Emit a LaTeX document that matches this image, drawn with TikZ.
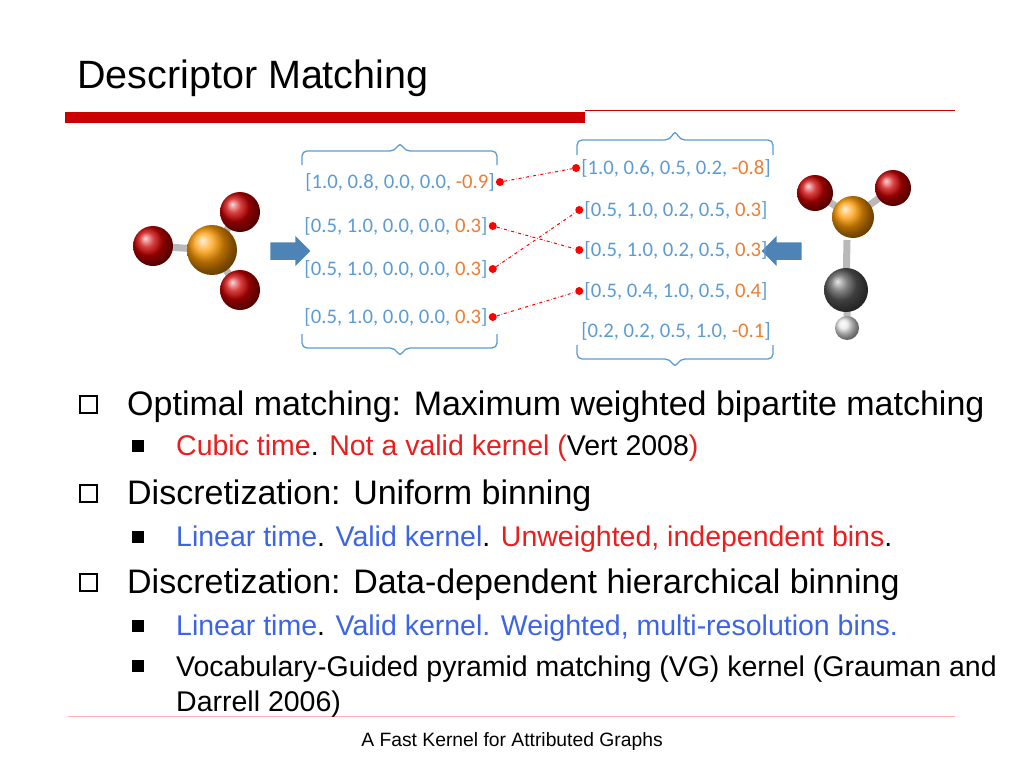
\documentclass[tikz,border=0pt]{standalone}
\usepackage{fontspec}
\setmainfont{Liberation Sans}
\newfontfamily\calib{Carlito}
\usetikzlibrary{shapes.arrows}
\definecolor{vb}{RGB}{91,155,213}
\definecolor{vo}{RGB}{237,125,49}
\definecolor{rt}{RGB}{235,30,30}
\definecolor{bt}{RGB}{60,100,230}
\definecolor{barred}{RGB}{204,0,0}
\newcommand{\vo}[1]{\textcolor{vo}{#1}}
\tikzset{
 vec/.style={font=\calib\fontsize{20.7}{24}\selectfont, text=vb, inner sep=1pt},
 brace/.style={draw=vb, line width=1.3pt, rounded corners=5pt},
 dot/.style={circle, fill=red, inner sep=0pt, minimum size=8pt},
 match/.style={red, dash dot, line width=1pt},
 ball/.style={circle, inner sep=0pt},
 bond/.style={line width=7pt, gray!55},
 txt/.style={anchor=base west, inner sep=0pt},
 main/.style={txt, font=\fontsize{34}{38}\selectfont},
 sub/.style={txt, font=\fontsize{28.5}{32}\selectfont},
 hbox/.style={draw, line width=2pt, minimum size=17pt, inner sep=0pt},
 fbox/.style={fill, minimum size=12pt, inner sep=0pt},
 barrow/.style={single arrow, fill=vb!85!black, minimum height=40pt, minimum width=30pt, single arrow head extend=3pt, inner sep=4pt}
}
\begin{document}
\begin{tikzpicture}[x=1pt,y=-1pt]
\useasboundingbox (0,0) rectangle (1024,768);
\node[txt, font=\fontsize{39.5}{44}\selectfont] (title) at (77,88) {Descriptor Matching};
\fill[barred] (65,112) rectangle (585,123);
\draw[barred, line width=1pt] (585,110) -- (955,110);
\draw[red!30, line width=0.8pt] (68,716) -- (955,716);
\node[font=\fontsize{19.3}{22}\selectfont] (foot) at (512,741) {A Fast Kernel for Attributed Graphs};

% left molecule
\draw[bond] (212,250) -- (240,212) (212,250) -- (153,246) (212,250) -- (240,290);
\node[ball, minimum size=40pt, ball color=red!80!black] (lo1) at (240,212) {};
\node[ball, minimum size=40pt, ball color=red!80!black] (lo2) at (153,246) {};
\node[ball, minimum size=50pt, ball color=orange!80!yellow] (ls) at (212,250) {};
\node[ball, minimum size=40pt, ball color=red!80!black] (lo3) at (240,290) {};
% right molecule
\draw[bond] (853,217) -- (815,193) (853,217) -- (893,188) (847,240) -- (846,290) (847,300) -- (847,328);
\node[ball, minimum size=36pt, ball color=red!80!black] (ro1) at (815,193) {};
\node[ball, minimum size=36pt, ball color=red!80!black] (ro2) at (893,188) {};
\node[ball, minimum size=42pt, ball color=orange!80!yellow] (rs) at (853,217) {};
\node[ball, minimum size=44pt, ball color=gray!70!black] (rc) at (846,290) {};
\node[ball, minimum size=24pt, ball color=gray!20] (rh) at (847,328) {};

\node[barrow] (la) at (286,251) {};
\node[barrow, shape border rotate=180] (ra) at (786,251) {};

% vectors
\node[vec] (l1) at (400,182) {[1.0, 0.8, 0.0, 0.0, \vo{-0.9}]};
\node[vec] (l2) at (396,226) {[0.5, 1.0, 0.0, 0.0, \vo{0.3}]};
\node[vec] (l3) at (396,269) {[0.5, 1.0, 0.0, 0.0, \vo{0.3}]};
\node[vec] (l4) at (396,317) {[0.5, 1.0, 0.0, 0.0, \vo{0.3}]};
\node[vec] (r1) at (676,168) {[1.0, 0.6, 0.5, 0.2, \vo{-0.8}]};
\node[vec] (r2) at (676,210) {[0.5, 1.0, 0.2, 0.5, \vo{0.3}]};
\node[vec] (r3) at (676,250) {[0.5, 1.0, 0.2, 0.5, \vo{0.3}]};
\node[vec] (r4) at (676,291) {[0.5, 0.4, 1.0, 0.5, \vo{0.4}]};
\node[vec] (r5) at (676,331) {[0.2, 0.2, 0.5, 1.0, \vo{-0.1}]};

\node[dot] (dl1) at ([xshift=4pt]l1.east) {};
\node[dot] (dl2) at ([xshift=4pt]l2.east) {};
\node[dot] (dl3) at ([xshift=4pt]l3.east) {};
\node[dot] (dl4) at ([xshift=4pt]l4.east) {};
\node[dot] (dr1) at ([xshift=-4pt]r1.west) {};
\node[dot] (dr2) at ([xshift=-4pt]r2.west) {};
\node[dot] (dr3) at ([xshift=-4pt]r3.west) {};
\node[dot] (dr4) at ([xshift=-4pt]r4.west) {};
\draw[match] (dl1) -- (dr1);
\draw[match] (dl2) -- (dr3);
\draw[match] (dl3) -- (dr2);
\draw[match] (dl4) -- (dr4);

% braces
\coordinate (bt1) at (400,142);
\draw[brace] (302,165) -- (302,151) -- (395,151) -- (bt1) -- (405,151) -- (497,151) -- (497,165);
\coordinate (bb1) at (400,357);
\draw[brace] (302,334) -- (302,348) -- (395,348) -- (bb1) -- (405,348) -- (497,348) -- (497,334);
\coordinate (bt2) at (675,130);
\draw[brace] (577,155) -- (577,140) -- (670,140) -- (bt2) -- (680,140) -- (773,140) -- (773,155);
\coordinate (bb2) at (675,368);
\draw[brace] (577,345) -- (577,359) -- (670,359) -- (bb2) -- (680,359) -- (773,359) -- (773,345);

% bullets
\node[hbox] (b1) at (88,404) {};
\node[main] (t1) at (127,415) {Optimal matching: Maximum weighted bipartite matching};
\node[fbox] (s1) at (138,446) {};
\node[sub] (u1) at (176,455) {\textcolor{rt}{Cubic time}. \textcolor{rt}{Not a valid kernel (}Vert 2008\textcolor{rt}{)}};
\node[hbox] (b2) at (88,493) {};
\node[main] (t2) at (127,504) {Discretization: Uniform binning};
\node[fbox] (s2) at (138,537) {};
\node[sub] (u2) at (176,546) {\textcolor{bt}{Linear time}. \textcolor{bt}{Valid kernel}. \textcolor{rt}{Unweighted, independent bins}.};
\node[hbox] (b3) at (88,582) {};
\node[main] (t3) at (127,593) {Discretization: Data-dependent hierarchical binning};
\node[fbox] (s3) at (138,626) {};
\node[sub] (u3) at (176,635) {\textcolor{bt}{Linear time}. \textcolor{bt}{Valid kernel. Weighted, multi-resolution bins.}};
\node[fbox] (s4) at (138,666) {};
\node[sub] (u4) at (176,676) {Vocabulary-Guided pyramid matching (VG) kernel (Grauman and};
\node[sub] (u5) at (176,711) {Darrell 2006)};
\end{tikzpicture}
\end{document}
